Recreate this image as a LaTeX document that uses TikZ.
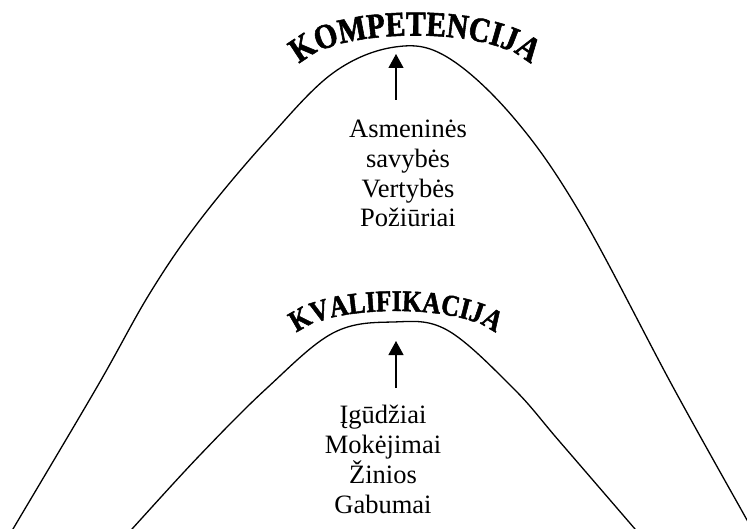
\documentclass[tikz,border=0pt]{standalone}
\usepackage{fontspec}
\setmainfont{Liberation Serif}
\newfontfamily\archfont[FakeStretch=0.85,FakeBold=1.6]{Liberation Serif Bold}
\usetikzlibrary{arrows.meta,decorations.text}
\begin{document}
\begin{tikzpicture}[x=1pt,y=-1pt,
  hill/.style={line width=1.3pt},
  riser/.style={line width=1.2pt,-{Triangle[length=14pt,width=15pt]}},
  itemlist/.style={align=center,font=\fontsize{26.5}{29.8}\selectfont,inner sep=0pt},
]
\useasboundingbox (0,0) rectangle (747,529);

% the two hills
\begin{scope}
  \clip (0,0) rectangle (747,529);
  \draw[hill] plot[smooth,tension=0.6] coordinates {
    (8,538) (13,529) (97,387) (150,293) (200,220) (267,140) (333,73) (395,47)
    (447,57) (513,117) (580,213) (673,387) (747,520) (752,529)};
  \draw[hill] plot[smooth,tension=0.6] coordinates {
    (125,537) (132,529) (200,455) (267,388) (333,333) (393,322)
    (447,330) (513,388) (560,442) (635,529) (642,537)};
\end{scope}

% arched titles
\path[decorate,decoration={text along path,text align=center,
  text={|\archfont\fontsize{35}{35}\selectfont|KOMPETENCIJA}}]
  (296,70) .. controls (320,24) and (510,24) .. (534,70);
\path[decorate,decoration={text along path,text align=center,
  text={|\archfont\fontsize{30}{30}\selectfont|KVALIFIKACIJA}}]
  (293,338) .. controls (315,302) and (477,302) .. (499,338);

% arrows
\coordinate (topfoot) at (396,100);
\coordinate (toptip) at (396,54);
\coordinate (lowfoot) at (396,388);
\coordinate (lowtip) at (396,341);
\draw[riser] (topfoot) -- (toptip);
\draw[riser] (lowfoot) -- (lowtip);

% lists (base anchor sits on the last line)
\node[itemlist,anchor=base] (upper) at (408,227)
  {Asmeninės\\savybės\\Vertybės\\Požiūriai};
\node[itemlist,anchor=base] (lower) at (383,513)
  {Įgūdžiai\\Mokėjimai\\Žinios\\Gabumai};
\end{tikzpicture}
\end{document}
